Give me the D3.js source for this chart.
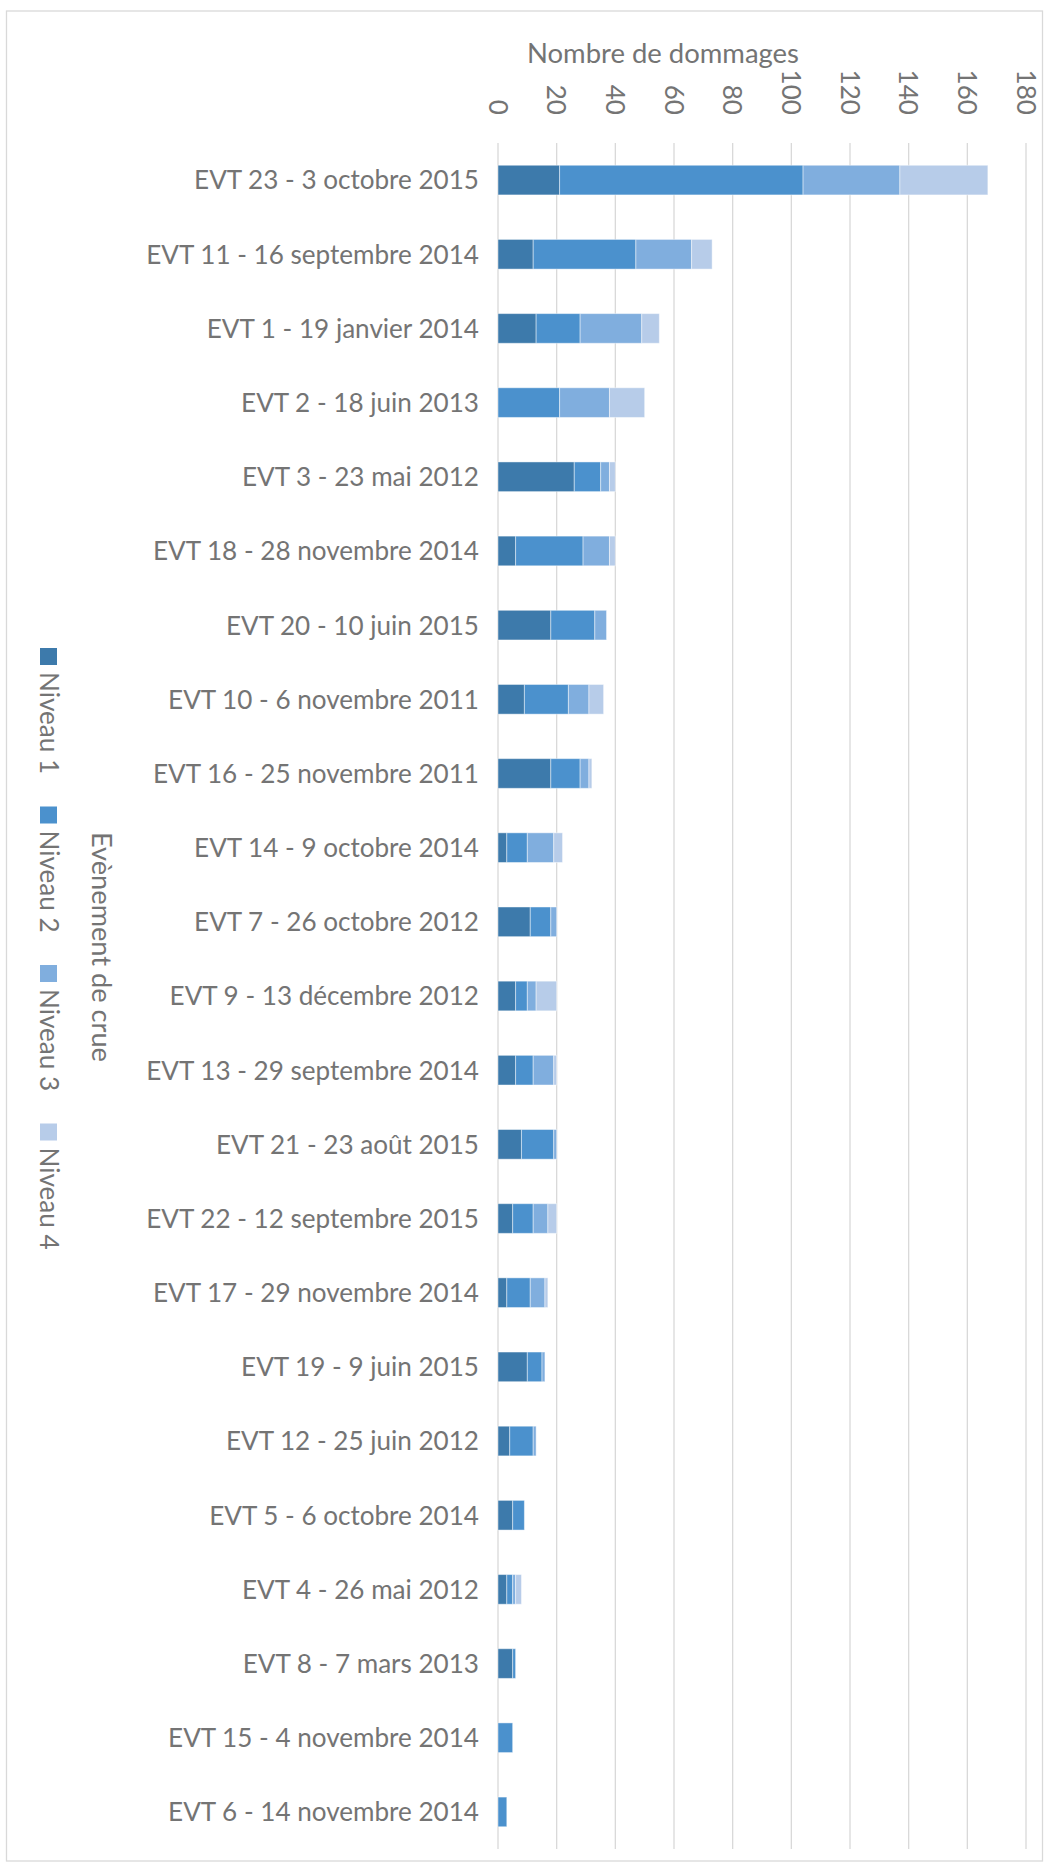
<!DOCTYPE html>
<html>
<head>
<meta charset="utf-8">
<script src="https://cdn.jsdelivr.net/npm/d3@7"></script>
<style>
  html, body { margin: 0; padding: 0; background: #fff; }
  svg { display: block; }
  text { font-family: Lato, "Open Sans", sans-serif; font-weight: 400; fill: #747474; }
</style>
</head>
<body>
<svg id="chart" width="1048" height="1869"></svg>
<script>
// Flood events, sorted by total number of damages
const categories = [
  "EVT 23 - 3 octobre 2015",
  "EVT 11 - 16 septembre 2014",
  "EVT 1 - 19 janvier 2014",
  "EVT 2 - 18 juin 2013",
  "EVT 3 - 23 mai 2012",
  "EVT 18 - 28 novembre 2014",
  "EVT 20 - 10 juin 2015",
  "EVT 10 - 6 novembre 2011",
  "EVT 16 - 25 novembre 2011",
  "EVT 14 - 9 octobre 2014",
  "EVT 7 - 26 octobre 2012",
  "EVT 9 - 13 décembre 2012",
  "EVT 13 - 29 septembre 2014",
  "EVT 21 - 23 août 2015",
  "EVT 22 - 12 septembre 2015",
  "EVT 17 - 29 novembre 2014",
  "EVT 19 - 9 juin 2015",
  "EVT 12 - 25 juin 2012",
  "EVT 5 - 6 octobre 2014",
  "EVT 4 - 26 mai 2012",
  "EVT 8 - 7 mars 2013",
  "EVT 15 - 4 novembre 2014",
  "EVT 6 - 14 novembre 2014"
];

// Damage counts per severity level
const niveau1 = [21, 12, 13, 0, 26, 6, 18, 9, 18, 3, 11, 6, 6, 8, 5, 3, 10, 4, 5, 3, 5, 0, 0];
const niveau2 = [83, 35, 15, 21, 9, 23, 15, 15, 10, 7, 7, 4, 6, 11, 7, 8, 5, 8, 4, 2, 1, 5, 3];
const niveau3 = [33, 19, 21, 17, 3, 9, 4, 7, 3, 9, 2, 3, 7, 1, 5, 5, 1, 1, 0, 1, 0, 0, 0];
const niveau4 = [30, 7, 6, 12, 2, 2, 0, 5, 1, 3, 0, 7, 1, 0, 3, 1, 0, 0, 0, 2, 0, 0, 0];

const seriesNames = ["Niveau 1", "Niveau 2", "Niveau 3", "Niveau 4"];
const xTicks = [0, 20, 40, 60, 80, 100, 120, 140, 160, 180];

const colors = ["#3d7aab", "#4b91cd", "#80aede", "#b7cce9"];

const svg = d3.select("#chart");
const plot = { left: 498, right: 1026, top: 143, bottom: 1849 };

// Font size that makes a given string span the wanted width
function fitSize(str, width) {
  const probe = svg.append("text").attr("font-size", 29).text(str);
  const w = probe.node().getComputedTextLength();
  probe.remove();
  return Math.min(30, 29 * width / w);
}
const fs = fitSize(categories[0], 285);
const titleFs = fitSize("Nombre de dommages", 272);
const yTitleFs = fitSize("Evènement de crue", 230);

// Chart frame
svg.append("rect")
  .attr("x", 6.5).attr("y", 11)
  .attr("width", 1036).attr("height", 1850)
  .attr("fill", "none").attr("stroke", "#d9d9d9").attr("stroke-width", 1.3);

const x = d3.scaleLinear().domain([0, 180]).range([plot.left, plot.right]);
const y = d3.scaleBand().domain(categories)
  .range([plot.top, plot.bottom]).paddingInner(0.6).paddingOuter(0.3);

// Vertical gridlines
svg.append("g").selectAll("line").data(xTicks).join("line")
  .attr("x1", d => x(d)).attr("x2", d => x(d))
  .attr("y1", plot.top).attr("y2", plot.bottom)
  .attr("stroke", "#d9d9d9").attr("stroke-width", 1.3);

// Top axis tick labels, rotated
svg.append("g").selectAll("text").data(xTicks).join("text")
  .attr("transform", d => `translate(${x(d)},115) rotate(90)`)
  .attr("text-anchor", "end")
  .attr("dy", "0.36em")
  .attr("font-size", fs)
  .text(d => d);

// Axis title
svg.append("text")
  .attr("x", 527).attr("y", 63)
  .attr("font-size", titleFs)
  .text("Nombre de dommages");

// Stacked bars
const rows = categories.map((c, i) => ({
  cat: c, Niveau1: niveau1[i], Niveau2: niveau2[i], Niveau3: niveau3[i], Niveau4: niveau4[i]
}));
const keys = ["Niveau1", "Niveau2", "Niveau3", "Niveau4"];
const stacked = d3.stack().keys(keys)(rows);

svg.append("g").selectAll("g").data(stacked).join("g")
  .attr("fill", (d, i) => colors[i])
  .selectAll("rect").data(d => d.filter(s => s[1] > s[0])).join("rect")
  .attr("x", d => x(d[0]))
  .attr("width", d => x(d[1]) - x(d[0]))
  .attr("y", d => y(d.data.cat))
  .attr("height", y.bandwidth())
  .attr("stroke", "rgba(255,255,255,0.45)")
  .attr("stroke-width", 1);

// Category labels
svg.append("g").selectAll("text").data(categories).join("text")
  .attr("x", 479)
  .attr("y", d => y(d) + y.bandwidth() / 2)
  .attr("dy", "0.36em")
  .attr("text-anchor", "end")
  .attr("font-size", fs)
  .text(d => d);

// Vertical axis title
svg.append("text")
  .attr("transform", "translate(92,947) rotate(90)")
  .attr("text-anchor", "middle")
  .attr("font-size", yTitleFs)
  .text("Evènement de crue");

// Legend, rotated to read downward
const legend = svg.append("g");
seriesNames.forEach((name, i) => {
  const y0 = 648 + i * 158.5;
  legend.append("rect")
    .attr("x", 40).attr("y", y0)
    .attr("width", 17).attr("height", 17)
    .attr("fill", colors[i]);
  legend.append("text")
    .attr("transform", `translate(40,${y0 + 24}) rotate(90)`)
    .attr("font-size", fs)
    .text(name);
});
</script>
</body>
</html>
